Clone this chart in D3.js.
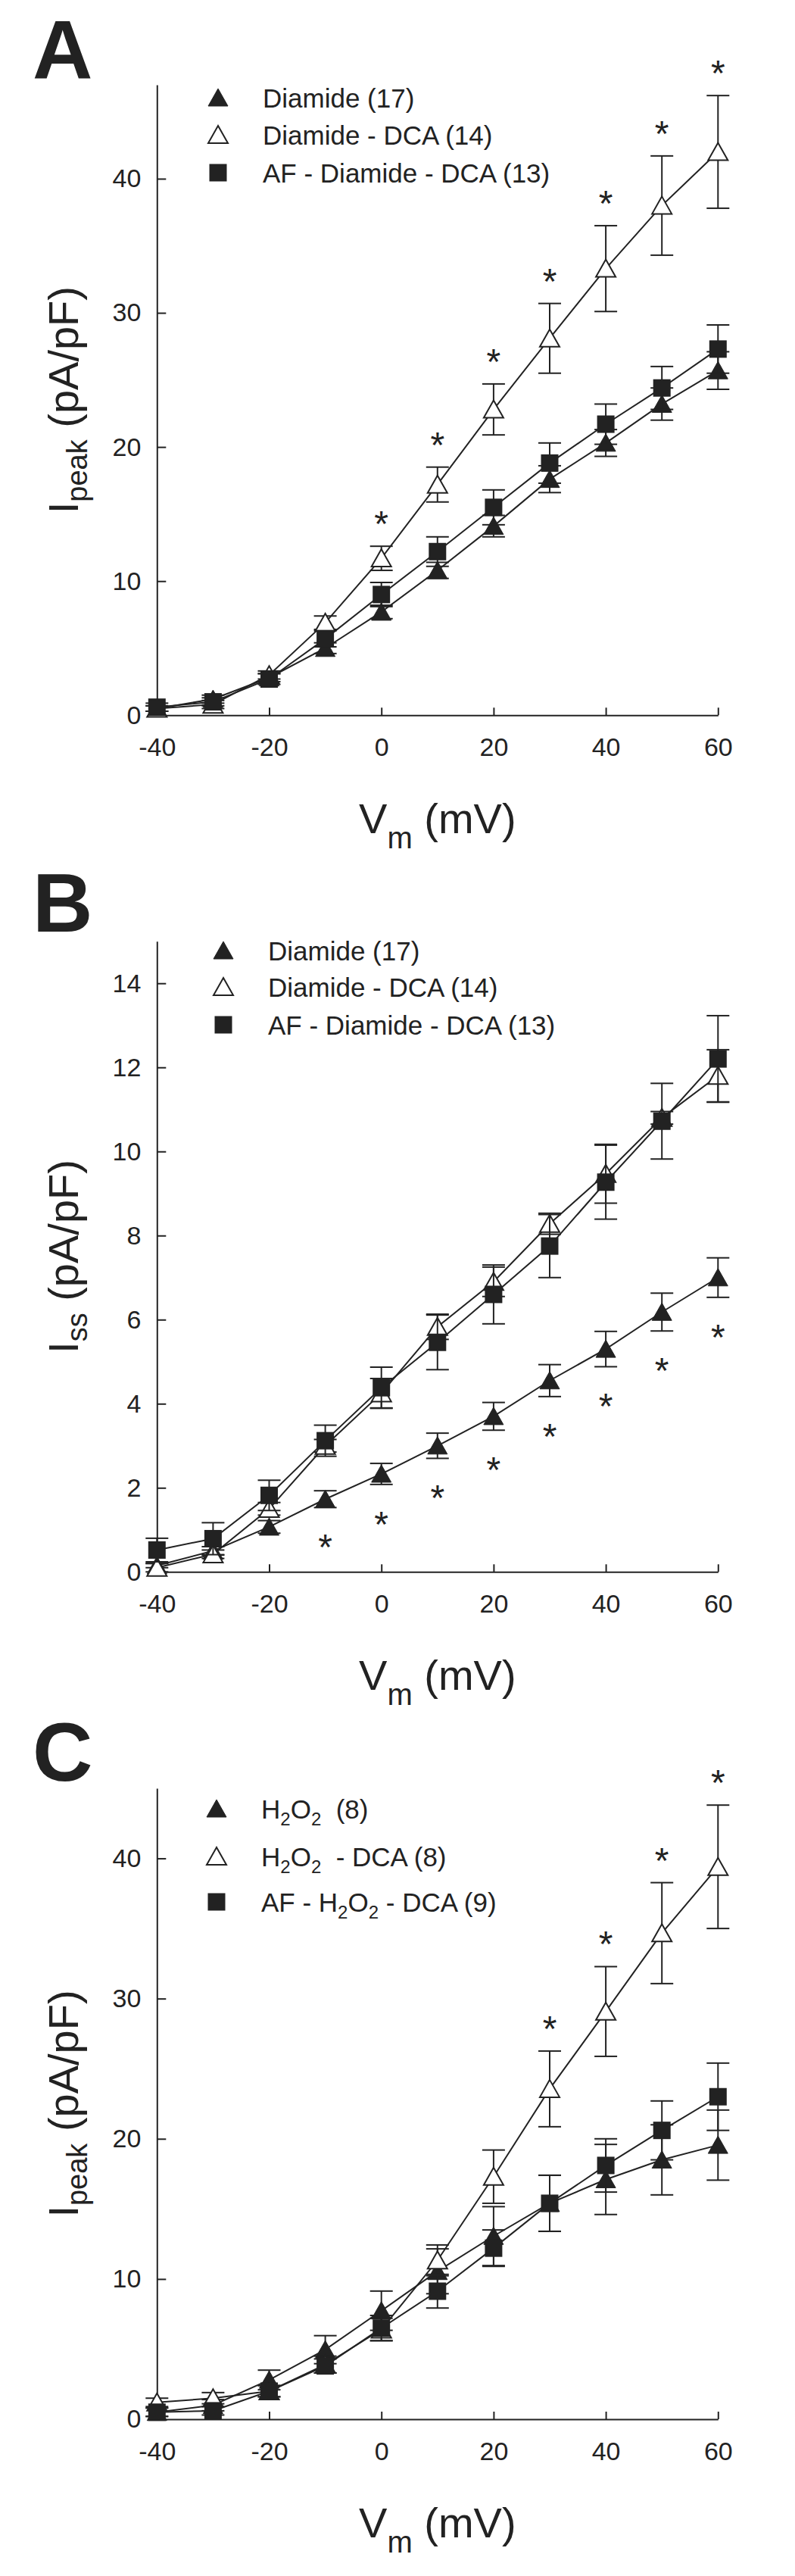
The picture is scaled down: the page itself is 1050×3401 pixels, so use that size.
<!DOCTYPE html>
<html><head><meta charset="utf-8">
<script src="https://cdn.jsdelivr.net/npm/d3@7"></script>
<style>
body{margin:0;background:#fff}
svg{display:block}
text{font-family:"Liberation Sans",Arial,Helvetica,sans-serif;fill:#222;white-space:pre}
</style>
</head><body>
<svg id="c" width="1050" height="3401"></svg>
<script>
// ---------- data ----------
const voltages = [-40,-30,-20,-10,0,10,20,30,40,50,60];
const xTicks = [-40,-20,0,20,40,60];

// Panel A : I_peak, diamide
const aDiamide     = [0.5,1.2,2.8,5.0,7.7,10.8,14.1,17.6,20.3,23.2,25.7];
const aDiamideSE   = [0.2,0.3,0.3,0.4,0.5,0.6,0.8,1.0,1.0,1.2,1.4];
const aDiamideDCA  = [0.5,0.8,3.0,6.9,11.7,17.2,22.8,28.1,33.3,38.0,42.0];
const aDiamideDCASE= [0.2,0.3,0.3,0.5,0.9,1.3,1.9,2.6,3.2,3.7,4.2];
const aAF          = [0.6,1.0,2.7,5.7,9.0,12.2,15.5,18.8,21.7,24.4,27.3];
const aAFSE        = [0.3,0.3,0.4,0.6,0.9,1.1,1.3,1.5,1.5,1.6,1.8];
const aSignificant = [0,10,20,30,40,50,60];
const aYTicks = [0,10,20,30,40];
const aLegend = ["Diamide (17)","Diamide - DCA (14)","AF - Diamide - DCA (13)"];

// Panel B : I_ss, diamide
const bDiamide     = [0.15,0.5,1.07,1.73,2.33,3.0,3.7,4.55,5.3,6.18,7.0];
const bDiamideSE   = [0.05,0.1,0.15,0.2,0.25,0.3,0.33,0.38,0.42,0.45,0.47];
const bDiamideDCA  = [0.1,0.42,1.5,3.0,4.25,5.83,6.9,8.28,9.47,10.8,11.8];
const bDiamideDCASE= [0.1,0.1,0.15,0.15,0.35,0.3,0.35,0.25,0.7,0.15,0.62];
const bAF          = [0.52,0.79,1.82,3.12,4.38,5.46,6.6,7.75,9.27,10.72,12.2];
const bAFSE        = [0.28,0.38,0.36,0.37,0.49,0.65,0.7,0.75,0.88,0.9,1.03];
const bSignificant = [-10,0,10,20,30,40,50,60];
const bYTicks = [0,2,4,6,8,10,12,14];
const bLegend = ["Diamide (17)","Diamide - DCA (14)","AF - Diamide - DCA (13)"];

// Panel C : I_peak, H2O2
const cH2O2        = [0.5,1.0,2.8,4.96,7.74,10.55,13.06,15.4,17.1,18.5,19.55];
const cH2O2SE      = [0.3,0.4,0.7,1.0,1.4,1.6,2.1,2.0,2.5,2.5,2.5];
const cH2O2DCA     = [1.2,1.5,2.0,3.9,6.4,11.33,17.3,23.56,29.08,34.67,39.4];
const cH2O2DCASE   = [0.3,0.4,0.4,0.6,0.8,1.1,1.9,2.7,3.2,3.6,4.4];
const cAF          = [0.5,0.6,2.0,3.8,6.5,9.13,12.2,15.4,18.1,20.6,23.0];
const cAFSE        = [0.3,0.3,0.4,0.5,0.9,1.2,1.3,2.0,1.9,2.1,2.4];
const cSignificant = [30,40,50,60];
const cYTicks = [0,10,20,30,40];
const cLegend = ["H_{2}O_{2}  (8)","H_{2}O_{2}  - DCA (8)","AF - H_{2}O_{2} - DCA (9)"];

const xTitle = "V_{m} (mV)";

// ---------- layout ----------
const X0 = 207.3, X1 = 948.3;
const ink = "#222";
const panels = [
  {label:"A", labelY:103, top:112, bottom:944.3, yMax:47, yTicks:aYTicks,
   yTitle:"I_{peak} (pA/pF)", legend:aLegend, legendX:288, legendY:[129,178,228],
   series:[[aDiamide,aDiamideSE],[aDiamideDCA,aDiamideDCASE],[aAF,aAFSE]],
   sig:aSignificant, sigSeries:1, sigAbove:true},
  {label:"B", labelY:1230, top:1242.7, bottom:2075.3, yMax:15, yTicks:bYTicks,
   yTitle:"I_{ss} (pA/pF)", legend:bLegend, legendX:295, legendY:[1255,1303,1353],
   series:[[bDiamide,bDiamideSE],[bDiamideDCA,bDiamideDCASE],[bAF,bAFSE]],
   sig:bSignificant, sigSeries:0, sigAbove:false},
  {label:"C", labelY:2351, top:2361, bottom:3194, yMax:45, yTicks:cYTicks,
   yTitle:"I_{peak} (pA/pF)", legend:cLegend, legendX:286, legendY:[2388,2451,2511],
   series:[[cH2O2,cH2O2SE],[cH2O2DCA,cH2O2DCASE],[cAF,cAFSE]],
   sig:cSignificant, sigSeries:1, sigAbove:true}
];
const symbols = ["triFilled","triOpen","square"];

const svg = d3.select("#c");
const x = d3.scaleLinear().domain([-40,60]).range([X0,X1]);
const plainFmt = d => String(d);

function richText(sel, str, subSize, shift){
  const parts = str.split(/(_\{[^}]*\})/).filter(s=>s.length);
  let pending = 0;
  parts.forEach(p=>{
    if(p.startsWith("_{")){
      sel.append("tspan").attr("font-size",subSize).attr("dy",shift-pending).text(p.slice(2,-1));
      pending = shift;
    } else {
      sel.append("tspan").attr("dy",-pending).text(p);
      pending = 0;
    }
  });
}

function drawSymbol(g, type, cx, cy){
  if(type==="square"){
    g.append("rect").attr("x",cx-11.5).attr("y",cy-11.5).attr("width",23).attr("height",23).attr("fill",ink);
  } else {
    const pts = [[cx,cy-12],[cx+13,cy+11],[cx-13,cy+11]];
    g.append("path").attr("d","M"+pts.map(p=>p.join(",")).join("L")+"Z")
      .attr("fill", type==="triFilled"?ink:"#fff")
      .attr("stroke",ink).attr("stroke-width",type==="triFilled"?1:2).attr("stroke-linejoin","miter");
  }
}

panels.forEach(p=>{
  const y = d3.scaleLinear().domain([0,p.yMax]).range([p.bottom,p.top]);
  const g = svg.append("g");

  g.append("text").attr("x",43).attr("y",p.labelY).attr("font-size",110).attr("font-weight","bold").text(p.label);

  // axes
  const xa = g.append("g").attr("transform",`translate(0,${p.bottom})`)
    .call(d3.axisBottom(x).tickValues(xTicks).tickFormat(plainFmt).tickSizeInner(-10).tickSizeOuter(0).tickPadding(30));
  const ya = g.append("g").attr("transform",`translate(${X0},0)`)
    .call(d3.axisLeft(y).tickValues(p.yTicks).tickFormat(plainFmt).tickSizeInner(-12).tickSizeOuter(0).tickPadding(21));
  [xa,ya].forEach(a=>{
    a.selectAll("path,line").attr("stroke",ink).attr("stroke-width",2);
    a.selectAll("text").attr("font-size",34).attr("fill",ink).style("font-family",'"Liberation Sans",Arial,sans-serif');
  });

  // titles
  const xt = g.append("text").attr("x",(X0+X1)/2).attr("y",p.bottom+156).attr("text-anchor","middle").attr("font-size",56);
  richText(xt, xTitle, 40, 20);
  const yt = g.append("text").attr("transform",`translate(103,${(p.top+p.bottom)/2}) rotate(-90)`)
    .attr("text-anchor","middle").attr("font-size",56);
  richText(yt, p.yTitle, 38, 12);

  // series
  p.series.forEach((s,i)=>{
    const [vals, se] = s;
    const pts = voltages.map((v,k)=>({v, m:vals[k], e:se[k]}));
    const sg = g.append("g");
    // error bars
    pts.forEach(d=>{
      const cx = x(d.v), y1 = y(d.m+d.e), y2 = y(Math.max(0,d.m-d.e));
      sg.append("line").attr("x1",cx).attr("x2",cx).attr("y1",y1).attr("y2",y2).attr("stroke",ink).attr("stroke-width",2);
      [y1,y2].forEach(yy=>sg.append("line").attr("x1",cx-15).attr("x2",cx+15).attr("y1",yy).attr("y2",yy).attr("stroke",ink).attr("stroke-width",2));
    });
    sg.append("path").datum(pts).attr("fill","none").attr("stroke",ink).attr("stroke-width",2)
      .attr("d", d3.line().x(d=>x(d.v)).y(d=>y(d.m)));
    pts.forEach(d=>drawSymbol(sg, symbols[i], x(d.v), y(d.m)));
  });

  // significance asterisks
  const [sv, ss] = p.series[p.sigSeries];
  p.sig.forEach(v=>{
    const k = voltages.indexOf(v);
    const cy = p.sigAbove ? y(sv[k]+ss[k]) - 40 : y(sv[k]-ss[k]) + 42;
    g.append("text").attr("x",x(v)).attr("y",cy+27).attr("text-anchor","middle").attr("font-size",48).text("*");
  });

  // legend
  p.legend.forEach((lab,i)=>{
    const cy = p.legendY[i];
    drawSymbol(g, symbols[i], p.legendX, cy);
    const t = g.append("text").attr("x",p.legendX+59).attr("y",cy+12.5).attr("font-size",35);
    richText(t, lab, 24, 9);
  });
});
</script>
</body></html>
